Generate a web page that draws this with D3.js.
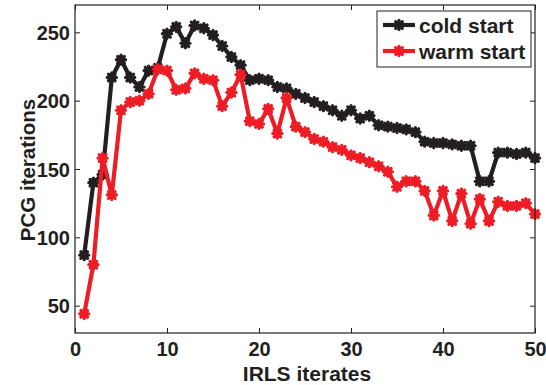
<!DOCTYPE html>
<html><head><meta charset="utf-8">
<script src="https://cdn.jsdelivr.net/npm/d3@7"></script>
<style>body{margin:0;background:#fff}svg{display:block}</style>
</head><body>
<script>
const iterates = d3.range(1, 51);
const coldStart = [87,140,146,217,230,217,210,222,224,249,254,242,255,253,248,240,232,226,215,216,215,210,209,205,202,199,196,193,189,193,187,189,182,181,180,179,177,170,169,169,168,167,167,141,141,162,162,161,162,158];
const warmStart = [44,80,158,131,193,199,200,205,223,222,208,209,220,216,215,196,206,219,185,183,194,176,202,181,177,172,170,166,164,160,158,155,152,148,137,141,141,134,116,134,112,132,110,128,112,126,123,123,125,117];
const seriesNames = ["cold start", "warm start"];
const seriesColors = ["#231f20", "#ee1c25"];
const xTicks = [0,10,20,30,40,50];
const yTicks = [50,100,150,200,250];

const W = 546, H = 385;
const L = 75, R = 535, T = 5, B = 333;
const FONT = "'Liberation Sans', Arial, Helvetica, sans-serif";
const svg = d3.select("body").append("svg").attr("width", W).attr("height", H)
  .style("font-family", FONT);

const x = d3.scaleLinear().domain([0, 50]).range([L, R]);
const y = d3.scaleLinear().domain([30, 270]).range([B, T]);

// axes
const fs = 20;
const axB = svg.append("g").attr("transform", `translate(0,${B})`)
  .call(d3.axisBottom(x).tickValues(xTicks).tickSizeInner(-5).tickSizeOuter(0).tickPadding(9));
const axT = svg.append("g").attr("transform", `translate(0,${T})`)
  .call(d3.axisTop(x).tickValues(xTicks).tickSizeInner(-5).tickSizeOuter(0).tickFormat(""));
const axL = svg.append("g").attr("transform", `translate(${L},0)`)
  .call(d3.axisLeft(y).tickValues(yTicks).tickSizeInner(-5).tickSizeOuter(0).tickPadding(5));
const axR = svg.append("g").attr("transform", `translate(${R},0)`)
  .call(d3.axisRight(y).tickValues(yTicks).tickSizeInner(-5).tickSizeOuter(0).tickFormat(""));
[axB, axT, axL, axR].forEach(a => {
  a.select(".domain").remove();
  a.selectAll("line").attr("stroke", "#231f20").attr("stroke-width", 1);
  a.selectAll("text").attr("font-size", fs).attr("font-weight", "bold").attr("fill", "#231f20")
   .attr("font-family", FONT);
});
axL.selectAll("text").attr("dy", "0.36em");

// lines + markers
const starPath = (r) => {
  const d = r * 0.72;
  return `M${-r},0L${r},0M0,${-r}L0,${r}M${-d},${-d}L${d},${d}M${-d},${d}L${d},${-d}`;
};
const data = [coldStart, warmStart];
const line = d3.line().x((d, i) => x(iterates[i])).y(d => y(d));
data.forEach((vals, k) => {
  const g = svg.append("g");
  g.append("path").datum(vals).attr("d", line).attr("fill", "none")
    .attr("stroke", seriesColors[k]).attr("stroke-width", 4.2).attr("stroke-linejoin", "miter");
  g.selectAll("path.m").data(vals).join("path").attr("class", "m")
    .attr("transform", (d, i) => `translate(${x(iterates[i])},${y(d)})`)
    .attr("d", starPath(4.6)).attr("fill", "none").attr("stroke", seriesColors[k])
    .attr("stroke-width", 3.2).attr("stroke-linecap", "round");
});

// box
svg.append("rect").attr("x", L).attr("y", T).attr("width", R - L).attr("height", B - T)
  .attr("fill", "none").attr("stroke", "#231f20").attr("stroke-width", 1.2);

// labels
svg.append("text").attr("x", (L + R) / 2 + 2).attr("y", 381).attr("text-anchor", "middle")
  .attr("font-size", 21).attr("font-weight", "bold").attr("fill", "#231f20").text("IRLS iterates");
svg.append("text").attr("transform", `translate(35,170) rotate(-90)`)
  .attr("text-anchor", "middle").attr("font-size", 20.5).attr("font-weight", "bold")
  .attr("fill", "#231f20").text("PCG iterations");

// legend
const lg = svg.append("g");
lg.append("rect").attr("x", 377).attr("y", 11).attr("width", 154).attr("height", 56)
  .attr("fill", "#fff").attr("stroke", "#231f20").attr("stroke-width", 1);
seriesNames.forEach((name, k) => {
  const yy = 25 + k * 26;
  lg.append("line").attr("x1", 383).attr("x2", 415).attr("y1", yy).attr("y2", yy)
    .attr("stroke", seriesColors[k]).attr("stroke-width", 4.2);
  lg.append("path").attr("transform", `translate(399,${yy})`).attr("d", starPath(4.6))
    .attr("fill", "none").attr("stroke", seriesColors[k]).attr("stroke-width", 3.2).attr("stroke-linecap", "round");
  lg.append("text").attr("x", 419).attr("y", yy).attr("dy", "0.36em")
    .attr("font-size", 21).attr("font-weight", "bold").attr("fill", "#231f20").text(name);
});
</script>
</body></html>
